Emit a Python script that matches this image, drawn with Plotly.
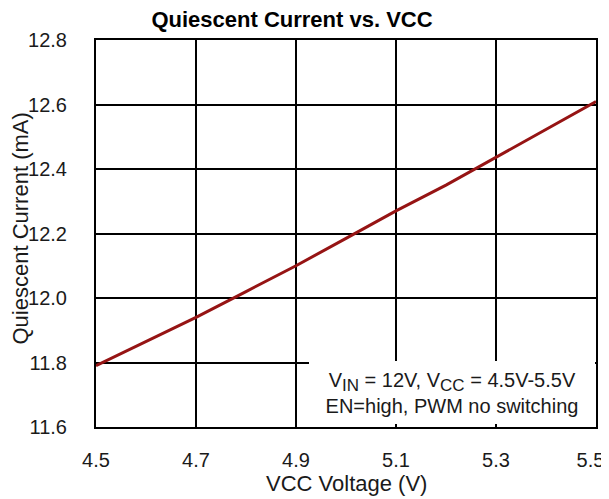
import plotly.graph_objects as go

vcc = [4.5, 4.6, 4.7, 4.8, 4.9, 5.0, 5.1, 5.2, 5.3, 5.4, 5.5]
iq = [11.79, 11.865, 11.94, 12.02, 12.10, 12.185, 12.27, 12.35, 12.437, 12.523, 12.609]
x_ticks = [4.5, 4.7, 4.9, 5.1, 5.3, 5.5]
x_labels = ["4.5", "4.7", "4.9", "5.1", "5.3", "5.5&nbsp;&nbsp;"]
y_ticks = [11.6, 11.8, 12.0, 12.2, 12.4, 12.6, 12.8]

font_family = "Liberation Sans, Arial, sans-serif"
W, H = 601, 491  # page body has an 8px margin

fig = go.Figure()
fig.add_trace(go.Scatter(x=vcc, y=iq, mode="lines",
                         line=dict(color="#961414", width=3), showlegend=False))

sub = "<sub><span style='font-size:17px'>{}</span></sub>"
fig.add_annotation(
    x=1.0, y=0.0, xref="paper", yref="paper", xanchor="right", yanchor="bottom",
    text="V" + sub.format("IN") + " = 12V, V" + sub.format("CC") + " = 4.5V-5.5V<br>EN=high, PWM no switching",
    showarrow=False, align="center", valign="middle", bgcolor="white",
    font=dict(family=font_family, size=20, color="#1a1a1a"),
    borderpad=0, borderwidth=0, xshift=-1, yshift=3, width=286, height=63,
)

# axis titles
fig.add_annotation(x=0, y=0.5, xref="paper", yref="paper", xanchor="center", yanchor="middle",
                   xshift=-76, yshift=5, textangle=-90, showarrow=False,
                   text="Quiescent Current (mA)",
                   font=dict(family=font_family, size=22, color="#1a1a1a"))
fig.add_annotation(x=0.5, y=0, xref="paper", yref="paper", xanchor="center", yanchor="middle",
                   yshift=-56, showarrow=False, text="VCC Voltage (V)",
                   font=dict(family=font_family, size=22, color="#1a1a1a"))

fig.update_layout(
    width=W, height=H,
    margin=dict(l=88, r=13, t=32, b=72),
    paper_bgcolor="white", plot_bgcolor="white",
    title=dict(text="<b>Quiescent Current vs. VCC</b>", x=284 / W, xanchor="center",
               xref="container", y=1 - 11 / H, yanchor="middle", yref="container",
               font=dict(family=font_family, size=22, color="black")),
    xaxis=dict(range=[4.5, 5.5], tickvals=x_ticks, ticktext=x_labels,
               showgrid=True, gridcolor="black", gridwidth=2, zeroline=False,
               showline=True, linecolor="black", linewidth=2, mirror=True,
               ticks="", ticklabelstandoff=14, automargin=False, ticklabeloverflow="allow",
               tickfont=dict(family=font_family, size=20, color="#1a1a1a")),
    yaxis=dict(range=[11.6, 12.8], tickvals=y_ticks, ticktext=[f"{v:.1f}" for v in y_ticks],
               showgrid=True, gridcolor="black", gridwidth=2, zeroline=False,
               showline=True, linecolor="black", linewidth=2, mirror=True,
               ticks="", ticklabelstandoff=23, automargin=False, ticklabeloverflow="allow",
               tickfont=dict(family=font_family, size=20, color="#1a1a1a")),
)

fig.write_html("out.html")
